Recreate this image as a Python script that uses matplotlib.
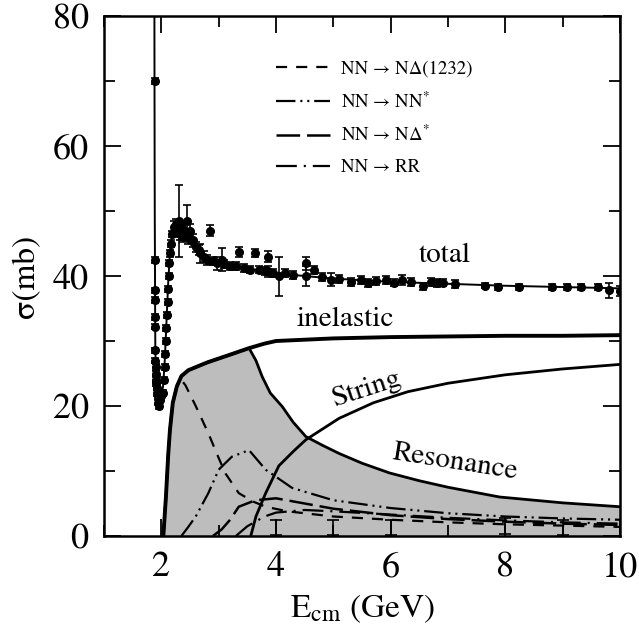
import matplotlib
matplotlib.use("Agg")
import matplotlib.pyplot as plt
from matplotlib.ticker import MultipleLocator

plt.rcParams["font.family"] = ["STIXGeneral", "Liberation Serif", "DejaVu Serif"]
plt.rcParams["mathtext.fontset"] = "stix"
plt.rcParams["lines.scale_dashes"] = False

# ---- measured total cross section (points with errors) ----
data_x = [1.885, 1.889, 1.890, 1.891, 1.892, 1.893, 1.895, 1.898, 1.902, 1.906, 1.910,
          1.915, 1.920, 1.930, 1.940, 1.950, 1.960, 1.980, 2.000, 2.030, 2.050, 2.060,
          2.070, 2.080, 2.090, 2.100, 2.110, 2.120, 2.130, 2.140, 2.150, 2.170, 2.190,
          2.220, 2.250, 2.280, 2.300, 2.320, 2.350, 2.380, 2.410, 2.440, 2.470, 2.500,
          2.550, 2.600, 2.650, 2.680, 2.750, 2.800, 2.850, 2.900, 2.970, 3.050, 3.100,
          3.200, 3.300, 3.360, 3.450, 3.550, 3.630, 3.700, 3.800, 3.860, 3.860, 3.950,
          4.050, 4.150, 4.300, 4.520, 4.520, 4.670, 4.800, 4.960, 5.100, 5.310, 5.490,
          5.600, 5.750, 5.920, 6.050, 6.190, 6.360, 6.570, 6.710, 6.800, 6.920, 7.120,
          7.650, 7.880, 8.230, 8.820, 9.070, 9.320, 9.610, 9.810, 10.00]
data_y = [70.0, 42.5, 37.8, 36.3, 33.7, 32.2, 28.6, 27.0, 26.0, 25.0, 24.0,
          23.5, 22.8, 22.0, 21.5, 20.5, 20.0, 21.0, 21.5, 22.0, 24.0, 26.0,
          28.0, 30.0, 32.0, 34.0, 36.0, 38.0, 40.0, 42.0, 43.5, 45.0, 46.5,
          47.5, 48.0, 47.0, 48.5, 46.5, 47.5, 46.0, 47.0, 48.5, 46.0, 47.0,
          45.5, 44.5, 44.0, 43.5, 43.0, 42.5, 47.0, 42.3, 42.0, 42.5, 41.8,
          41.5, 41.5, 43.7, 41.2, 41.0, 43.5, 41.0, 40.8, 43.0, 40.7, 40.5,
          40.0, 40.5, 40.2, 42.0, 40.0, 40.9, 39.8, 39.4, 39.5, 39.1, 39.4,
          38.9, 39.2, 39.4, 39.0, 39.4, 39.1, 38.4, 39.1, 38.9, 39.0, 38.8,
          38.5, 38.3, 38.3, 38.3, 38.3, 38.3, 38.3, 37.8, 37.7]
data_err = [0.5, 0.5, 0.4, 0.4, 0.4, 0.4, 0.4, 0.4, 0.4, 0.4, 0.4,
            0.4, 0.4, 0.4, 0.4, 0.4, 0.4, 0.4, 0.4, 0.4, 0.4, 0.4,
            0.4, 0.4, 0.4, 0.4, 0.4, 0.4, 0.4, 0.4, 0.5, 0.5, 0.5,
            1.0, 0.8, 1.0, 5.5, 1.0, 1.0, 0.8, 1.0, 2.5, 1.0, 1.0,
            1.0, 0.8, 0.8, 1.5, 0.8, 0.8, 0.8, 0.6, 1.0, 1.8, 0.6,
            0.6, 0.6, 0.7, 0.6, 0.6, 0.6, 0.6, 0.6, 0.8, 0.8, 0.6,
            3.0, 0.6, 0.6, 1.0, 1.5, 0.6, 0.6, 1.0, 0.6, 0.6, 0.6,
            0.6, 0.6, 0.6, 0.6, 0.8, 0.6, 0.6, 0.6, 0.6, 0.6, 0.6,
            0.4, 0.4, 0.4, 0.4, 0.4, 0.4, 0.4, 1.2, 0.8]

# ---- model curves ----
total_x = [1.8775, 1.880, 1.883, 1.886, 1.889, 1.892, 1.895, 1.900, 1.910, 1.930, 1.960,
           2.000, 2.030, 2.060, 2.090, 2.120, 2.150, 2.180, 2.210, 2.250, 2.300, 2.350,
           2.400, 2.500, 2.600, 2.800, 3.000, 3.300, 3.600, 4.000, 4.500, 5.000, 6.000,
           7.000, 8.000, 9.000, 10.00]
total_y = [95.0, 75.0, 58.0, 48.0, 42.0, 34.0, 29.0, 27.0, 25.0, 22.5, 21.0,
           21.5, 23.0, 27.0, 33.0, 39.0, 43.5, 46.0, 47.3, 47.6, 47.2, 46.6,
           46.0, 45.0, 44.0, 42.8, 42.0, 41.4, 41.0, 40.4, 40.0, 39.6, 39.1,
           38.8, 38.5, 38.3, 38.1]

inel_x = [2.035, 2.080, 2.120, 2.150, 2.200, 2.270, 2.350, 2.470, 2.800, 3.200, 3.530,
          3.800, 4.000, 4.500, 5.000, 6.000, 7.000, 8.000, 9.000, 10.00]
inel_y = [0.0, 6.0, 12.5, 16.3, 20.5, 23.0, 24.6, 25.5, 26.7, 27.9, 28.9,
          29.6, 30.0, 30.2, 30.4, 30.6, 30.7, 30.8, 30.8, 30.9]

reso_x = [2.035, 2.080, 2.120, 2.150, 2.200, 2.270, 2.350, 2.470, 2.800, 3.200, 3.530,
          3.650, 3.760, 3.900, 4.110, 4.300, 4.520, 4.800, 5.100, 5.500, 5.980, 6.500,
          7.000, 7.900, 9.000, 10.00]
reso_y = [0.0, 6.0, 12.5, 16.3, 20.5, 23.0, 24.6, 25.5, 26.7, 27.9, 28.9,
          27.0, 24.5, 22.0, 19.9, 17.5, 15.3, 14.0, 12.7, 11.2, 9.7, 8.5,
          7.5, 6.0, 5.1, 4.5]

string_x = [3.560, 3.650, 3.820, 4.050, 4.300, 4.520, 5.100, 5.700, 6.300, 7.000,
            8.000, 9.000, 10.00]
string_y = [0.0, 3.0, 6.6, 10.8, 13.0, 14.8, 18.1, 20.5, 22.2, 23.5,
            24.8, 25.7, 26.4]

nd1232_x = [2.035, 2.080, 2.120, 2.150, 2.200, 2.270, 2.350, 2.420, 2.600, 2.820,
            3.000, 3.120, 3.350, 3.600, 3.820, 4.200, 5.000, 6.000, 7.000, 8.000,
            9.000, 10.00]
nd1232_y = [0.0, 6.0, 12.5, 16.3, 20.5, 23.0, 24.0, 23.2, 20.0, 15.8,
            12.0, 9.6, 6.6, 5.3, 4.5, 3.8, 3.0, 2.5, 2.1, 1.8,
            1.6, 1.4]

nnstar_x = [2.350, 2.470, 2.600, 2.820, 3.000, 3.230, 3.530, 3.820, 4.280, 5.000,
            6.000, 7.000, 8.000, 9.000, 10.00]
nnstar_y = [0.0, 1.4, 3.0, 6.6, 10.2, 12.2, 13.2, 10.2, 7.4, 5.5,
            4.3, 3.5, 3.0, 2.7, 2.5]

ndstar_x = [2.900, 3.050, 3.200, 3.350, 3.640, 4.000, 4.500, 5.000, 6.000, 7.000,
            8.000, 9.000, 10.00]
ndstar_y = [0.0, 1.0, 2.5, 4.5, 5.5, 5.8, 5.0, 4.2, 3.2, 2.6,
            2.2, 1.9, 1.7]

rr_x = [3.300, 3.500, 3.800, 4.000, 4.500, 5.000, 6.000, 7.000, 8.000, 9.000, 10.00]
rr_y = [0.0, 1.5, 3.0, 3.6, 4.0, 3.8, 3.3, 2.8, 2.4, 2.1, 1.9]

# small exclusive-channel points near the axis
excl_x = [4.0, 5.0, 6.0, 8.0, 9.0]
excl_y = [1.3, 1.3, 1.3, 1.5, 1.3]
excl_err = [1.2, 1.2, 1.2, 1.2, 1.2]

legend_labels = ["NN → NΔ(1232)", r"NN → NN$^{*}$", r"NN → NΔ$^{*}$", "NN → RR"]

fig = plt.figure(figsize=(6.39, 6.30), dpi=100)
ax = fig.add_axes([104 / 639, 1 - 536 / 630, 516 / 639, 520 / 630])

ax.fill_between(reso_x, 0, reso_y, color="#bdbdbd", lw=0, zorder=1)

ax.plot(total_x, total_y, color="black", lw=1.4, zorder=4)
ax.errorbar(data_x, data_y, yerr=data_err, fmt="o", color="black", ms=5.5,
            capsize=3, elinewidth=1.2, capthick=1.2, zorder=5)

ax.plot(inel_x, inel_y, color="black", lw=2.8, zorder=3)
ax.plot(reso_x, reso_y, color="black", lw=2.0, zorder=3)
ax.plot(string_x, string_y, color="black", lw=2.0, zorder=3)

l1, = ax.plot(nd1232_x, nd1232_y, color="black", lw=1.6,
              ls=(0, (8, 6.5)), zorder=2)
l2, = ax.plot(nnstar_x, nnstar_y, color="black", lw=1.6,
              ls=(0, (14, 3.5, 1.5, 3.5, 1.5, 3.5)), zorder=2)
l3, = ax.plot(ndstar_x, ndstar_y, color="black", lw=1.8,
              ls=(0, (17, 5)), zorder=2)
l4, = ax.plot(rr_x, rr_y, color="black", lw=1.6,
              ls=(0, (15, 5, 1.5, 5)), zorder=2)

ax.errorbar(excl_x, excl_y, yerr=excl_err, fmt="none", color="black",
            capsize=4, elinewidth=1.2, capthick=1.2, zorder=2)

ax.legend([l1, l2, l3, l4], legend_labels, loc="upper left",
          bbox_to_anchor=(0.333, 0.914), frameon=False, fontsize=13.5,
          handlelength=2.9, handletextpad=0.6, labelspacing=0.72,
          borderpad=0, borderaxespad=0)

ax.text(6.94, 43.2, "total", fontsize=21, ha="center", va="center")
ax.text(5.2, 33.3, "inelastic", fontsize=21, ha="center", va="center")
ax.text(5.58, 22.6, "String", fontsize=21, ha="center", va="center", rotation=18)
ax.text(7.12, 11.3, "Resonance", fontsize=21, ha="center", va="center", rotation=-9)

ax.set_xlim(1, 10)
ax.set_ylim(0, 80)
ax.xaxis.set_major_locator(MultipleLocator(2))
ax.xaxis.set_minor_locator(MultipleLocator(1))
ax.yaxis.set_major_locator(MultipleLocator(20))
ax.yaxis.set_minor_locator(MultipleLocator(10))
ax.tick_params(which="both", direction="in", top=True, right=True, width=1.3)
ax.tick_params(which="major", length=12, labelsize=26, pad=11)
ax.tick_params(which="minor", length=8)
for s in ax.spines.values():
    s.set_linewidth(1.8)

ax.set_xlabel(r"E$_{\rm cm}$ (GeV)", fontsize=24, labelpad=6)
ax.set_ylabel("σ(mb)", fontsize=24, labelpad=8)

fig.savefig("out.png", dpi=100)
